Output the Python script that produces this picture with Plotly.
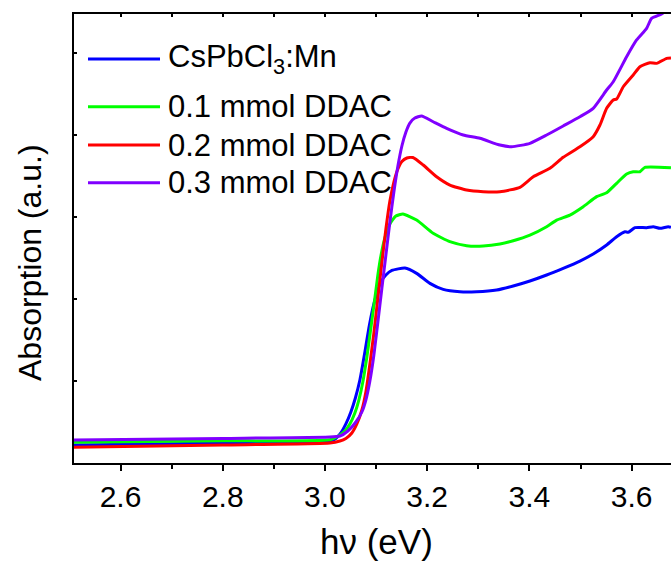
import plotly.graph_objects as go

# ---- data (photon energy in eV, absorption in arbitrary units) ----
names = ["CsPbCl<sub>3</sub>:Mn", "0.1 mmol DDAC", "0.2 mmol DDAC", "0.3 mmol DDAC"]
colors = ["#0000FF", "#00FF00", "#FF0000", "#8000FF"]

blue_x = [2.509, 2.8, 3.0096, 3.0213, 3.0311, 3.0409, 3.0507, 3.0595, 3.0683, 3.0781,
          3.0859, 3.0937, 3.1016, 3.1094, 3.1192, 3.1309, 3.1564, 3.1793, 3.2053, 3.2313,
          3.264, 3.2967, 3.3358, 3.3683, 3.401, 3.4337, 3.4661, 3.4988, 3.5248, 3.5511,
          3.5706, 3.5869, 3.5933, 3.6065, 3.6293, 3.6422, 3.6553, 3.6716, 3.6769]
blue_y = [0.22, 0.245, 0.265, 0.299, 0.366, 0.476, 0.622, 0.793, 1.012, 1.354,
          1.646, 1.890, 2.073, 2.207, 2.293, 2.348, 2.378, 2.313, 2.191, 2.118,
          2.089, 2.089, 2.110, 2.159, 2.220, 2.293, 2.374, 2.463, 2.549, 2.659,
          2.760, 2.821, 2.813, 2.870, 2.870, 2.882, 2.862, 2.882, 2.874]

green_x = [2.509, 2.8, 3.0096, 3.0292, 3.0389, 3.0487, 3.0585, 3.0663, 3.0741, 3.082,
           3.0898, 3.0977, 3.1035, 3.1094, 3.1172, 3.127, 3.1387, 3.1525, 3.1793, 3.2117,
           3.2444, 3.2771, 3.3096, 3.3423, 3.3683, 3.401, 3.4337, 3.4533, 3.4792, 3.5053,
           3.5315, 3.5511, 3.5706, 3.5902, 3.6031, 3.6162, 3.626, 3.6769]
green_y = [0.252, 0.27, 0.284, 0.341, 0.390, 0.476, 0.610, 0.768, 0.988, 1.293,
           1.646, 2.012, 2.293, 2.524, 2.744, 2.915, 3.012, 3.037, 2.963, 2.801,
           2.699, 2.650, 2.646, 2.671, 2.711, 2.780, 2.882, 2.963, 3.024, 3.126,
           3.248, 3.296, 3.411, 3.524, 3.552, 3.552, 3.606, 3.601]

red_x = [2.509, 2.8, 3.0096, 3.0292, 3.0409, 3.0526, 3.0624, 3.0722, 3.08, 3.0879,
         3.0957, 3.1035, 3.1114, 3.1192, 3.127, 3.1348, 3.1427, 3.1505, 3.1603, 3.172,
         3.1922, 3.2184, 3.2444, 3.2771, 3.3096, 3.3423, 3.3814, 3.4075, 3.4402, 3.4661,
         3.4988, 3.5248, 3.538, 3.5511, 3.564, 3.5706, 3.5836, 3.6031, 3.6162, 3.6357,
         3.6489, 3.6685, 3.6769]
red_y = [0.191, 0.22, 0.244, 0.268, 0.299, 0.366, 0.476, 0.646, 0.866, 1.207,
         1.585, 2.012, 2.451, 2.854, 3.195, 3.427, 3.585, 3.677, 3.720, 3.726,
         3.634, 3.491, 3.390, 3.329, 3.309, 3.309, 3.362, 3.491, 3.594, 3.728,
         3.857, 3.980, 4.122, 4.326, 4.427, 4.439, 4.589, 4.732, 4.833, 4.882,
         4.874, 4.935, 4.939]

purple_x = [2.509, 2.8, 3.0096, 3.0292, 3.0448, 3.0605, 3.0722, 3.08, 3.0879, 3.0957,
            3.1035, 3.1114, 3.1192, 3.127, 3.1348, 3.1427, 3.1505, 3.1584, 3.1661, 3.1759,
            3.189, 3.2117, 3.238, 3.2705, 3.3031, 3.3423, 3.3652, 3.401, 3.4337, 3.4661,
            3.4988, 3.5248, 3.5511, 3.564, 3.5902, 3.6097, 3.6293, 3.639, 3.6586, 3.677]
purple_y = [0.28, 0.30, 0.317, 0.329, 0.390, 0.500, 0.622, 0.768, 1.000, 1.317,
            1.720, 2.134, 2.537, 2.939, 3.305, 3.622, 3.866, 4.037, 4.146, 4.207,
            4.232, 4.162, 4.082, 4.000, 3.960, 3.878, 3.857, 3.899, 4.000, 4.110,
            4.223, 4.326, 4.549, 4.650, 4.955, 5.159, 5.301, 5.423, 5.476, 5.56]

series_x = [blue_x, green_x, red_x, purple_x]
series_y = [blue_y, green_y, red_y, purple_y]

x_range = [2.509, 3.677]
y_range = [0, 5.476]
x_title = "h\u03bd (eV)"
y_title = "Absorption (a.u.)"

# ---- figure geometry (pixels) ----
W, H = 671, 564
ML, MT, MB, MR = 74, 14, 101, 0
PW, PH = W - ML - MR, H - MT - MB

FONT = "Liberation Sans, Arial, sans-serif"


def px_x(px):
    return (px - ML) / PW


def px_y(py):
    return (H - MB - py) / PH


fig = go.Figure()
for xs, ys, c, n in zip(series_x, series_y, colors, names):
    fig.add_trace(go.Scatter(x=xs, y=ys, mode="lines", name=n,
                             line=dict(color=c, width=3, shape="spline", smoothing=0.5),
                             showlegend=False))

# legend drawn with long line swatches as in the original
leg_rows_px = [59, 106.7, 145, 182.7]
for c, n, py in zip(colors, names, leg_rows_px):
    fig.add_shape(type="line", xref="paper", yref="paper",
                  x0=px_x(88), x1=px_x(160), y0=px_y(py), y1=px_y(py),
                  line=dict(color=c, width=3))
    fig.add_annotation(xref="paper", yref="paper", x=px_x(166), y=px_y(py),
                       xanchor="left", yanchor="middle", text=n, showarrow=False,
                       font=dict(family=FONT, size=31, color="black"))

# axis titles
fig.add_annotation(xref="paper", yref="paper", x=px_x(376), y=px_y(563),
                   xanchor="center", yanchor="bottom", text=x_title, showarrow=False,
                   font=dict(family=FONT, size=35, color="black"))
fig.add_annotation(xref="paper", yref="paper", x=px_x(30), y=px_y(263),
                   xanchor="center", yanchor="middle", text=y_title, showarrow=False,
                   textangle=-90, font=dict(family=FONT, size=32, color="black"))

fig.update_layout(
    width=W, height=H,
    margin=dict(l=ML, r=MR, t=MT, b=MB, autoexpand=False),
    paper_bgcolor="white", plot_bgcolor="white",
    font=dict(family=FONT, color="black"),
    xaxis=dict(range=x_range, dtick=0.2, tick0=2.6, ticks="outside", ticklen=6, tickwidth=1.5,
               tickcolor="black", showline=True, linecolor="black", linewidth=2, mirror=True,
               showgrid=False, zeroline=False, tickformat=".1f",
               tickfont=dict(family=FONT, size=30),
               minor=dict(dtick=0.1, ticks="outside", ticklen=4, tickwidth=1.5, tickcolor="black")),
    xaxis2=dict(range=x_range, overlaying="x", side="top", dtick=0.1, tick0=2.6,
                ticks="inside", ticklen=3, tickwidth=1.5, tickcolor="black",
                showticklabels=False, showgrid=False, zeroline=False, showline=False),
    yaxis=dict(range=y_range, dtick=1, tick0=0, ticks="inside", ticklen=3, tickwidth=1.5,
               tickcolor="black", showticklabels=False, showline=True, linecolor="black",
               linewidth=2, showgrid=False, zeroline=False),
)
# invisible trace to activate the top tick axis
fig.add_trace(go.Scatter(x=[x_range[0]], y=[0], xaxis="x2", mode="markers",
                         marker=dict(opacity=0), showlegend=False, hoverinfo="skip"))

fig.write_html("out.html")
